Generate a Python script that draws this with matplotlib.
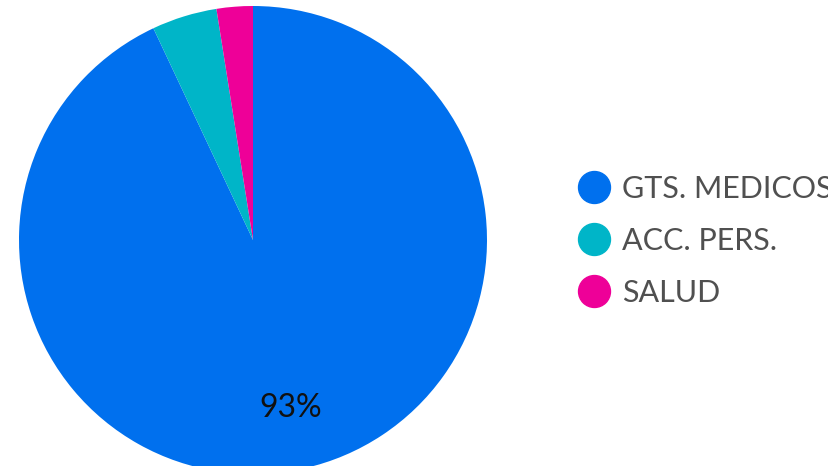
import matplotlib.pyplot as plt
from matplotlib.lines import Line2D

labels = ["GTS. MEDICOS", "ACC. PERS.", "SALUD"]
values = [93, 4.5, 2.5]
colors = ["#0070EE", "#00B5C8", "#EE0098"]

plt.rcParams['font.family'] = ['Lato', 'DejaVu Sans']

fig = plt.figure(figsize=(8.29, 4.66), dpi=100)
cx, cy, r = 253, 240, 234
W, H = 829, 466
ax = fig.add_axes([(cx - r) / W, (H - cy - r) / H, 2 * r / W, 2 * r / H])


def pct(p):
    return "%d%%" % round(p) if p > 10 else ""


wedges, texts, autotexts = ax.pie(values, colors=colors, startangle=90, counterclock=False,
                                  autopct=pct, pctdistance=0.735, radius=1,
                                  textprops={'fontsize': 23, 'color': '#111111'})
ax.set_xlim(-1, 1)
ax.set_ylim(-1, 1)
ax.set_aspect('equal')
ax.axis('off')

handles = [Line2D([], [], marker='o', linestyle='', markersize=23, color=c) for c in colors]
fig.legend(handles, labels, loc='upper left', bbox_to_anchor=(579 / W, 1 - 175 / H),
           frameon=False, labelcolor='#505050', handlelength=1.0,
           handletextpad=0.42, labelspacing=0.78, borderpad=0, borderaxespad=0,
           prop={'size': 22})

fig.savefig("out.png", dpi=100)
